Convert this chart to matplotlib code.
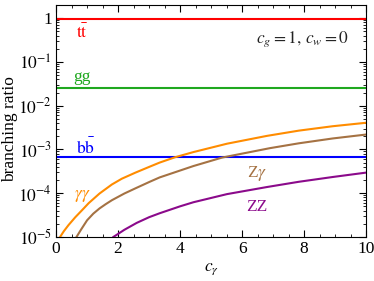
import numpy as np
import matplotlib
matplotlib.use("Agg")
import matplotlib.pyplot as plt
from matplotlib.ticker import LogLocator, MultipleLocator, FuncFormatter, NullFormatter

plt.rcParams['font.family'] = ['Liberation Serif', 'DejaVu Serif']
plt.rcParams['mathtext.fontset'] = 'stix'

# constant channels
br_tt = 0.96
br_gg = 0.026
br_bb = 6.6e-4

# c_gamma dependent channels
c_aa = [0.13, 0.25, 0.40, 0.62, 0.85, 1.05, 1.4, 1.8, 2.12, 2.56, 3.0, 3.34, 3.83,
        4.43, 5.51, 6.8, 7.83, 8.92, 10]
br_aa = [1.0e-5, 1.35e-5, 1.86e-5, 2.82e-5, 4.17e-5, 5.9e-5, 9.8e-5, 1.58e-4, 2.14e-4,
         2.95e-4, 3.98e-4, 5.0e-4, 6.6e-4, 8.7e-4, 1.35e-3, 2.04e-3, 2.69e-3, 3.39e-3, 4.07e-3]

c_za = [0.66, 0.8, 1.0, 1.2, 1.4, 1.6, 1.8, 2.2, 2.56, 3.02, 3.34, 4.43, 5.35, 6.9, 7.83, 8.92, 10]
br_za = [1.0e-5, 1.45e-5, 2.4e-5, 3.4e-5, 4.47e-5, 5.6e-5, 6.9e-5, 9.8e-5, 1.29e-4, 1.82e-4,
         2.29e-4, 4.17e-4, 6.5e-4, 1.07e-3, 1.38e-3, 1.78e-3, 2.19e-3]

c_zz = [1.85, 2.0, 2.2, 2.6, 3.0, 3.34, 4.0, 4.43, 5.51, 6.8, 7.83, 8.92, 10]
br_zz = [1.0e-5, 1.17e-5, 1.45e-5, 2.09e-5, 2.82e-5, 3.47e-5, 5.0e-5, 6.2e-5, 9.5e-5,
         1.38e-4, 1.82e-4, 2.34e-4, 2.95e-4]

RED = '#ff0000'
GREEN = '#1fa81f'
BLUE = '#0000ff'
ORANGE = '#ff8c00'
BROWN = '#a57243'
PURPLE = '#8b0a8b'

fig = plt.figure(figsize=(3.74, 2.81), dpi=100)
ax = fig.add_axes([0.150, 0.157, 0.829, 0.825])

lw = 1.5
ax.axhline(br_tt, color=RED, lw=lw)
ax.axhline(br_gg, color=GREEN, lw=lw)
ax.axhline(br_bb, color=BLUE, lw=lw)
ax.plot(c_aa, br_aa, color=ORANGE, lw=lw)
ax.plot(c_za, br_za, color=BROWN, lw=lw)
ax.plot(c_zz, br_zz, color=PURPLE, lw=lw)

ax.set_yscale('log')
ax.set_xlim(0, 10)
ax.set_ylim(1e-5, 2.0)

ax.xaxis.set_major_locator(MultipleLocator(2))
ax.xaxis.set_minor_locator(MultipleLocator(0.5))
ax.yaxis.set_major_locator(LogLocator(base=10, numticks=10))
ax.yaxis.set_minor_locator(LogLocator(base=10, subs=np.arange(2, 10), numticks=20))
ax.yaxis.set_minor_formatter(NullFormatter())


def ylab(v, pos):
    e = int(round(np.log10(v)))
    if e == 0:
        return '1'
    return r'$10^{%d}$' % e


fs = 12.5
ax.yaxis.set_major_formatter(FuncFormatter(ylab))
ax.tick_params(which='both', direction='in', top=True, right=True, labelsize=fs)
ax.tick_params(which='major', length=5, width=0.8, pad=3)
ax.tick_params(which='minor', length=2.5, width=0.6)

ax.set_xlabel(r'$c_\gamma$', fontsize=fs, labelpad=3)
fig.text(10 / 374, 1 - 129 / 281, 'branching ratio', fontsize=fs, rotation=90,
         ha='center', va='center')

ax.text(0.85, 0.45, r'$\mathrm{t}\bar{\mathrm{t}}$', color=RED, fontsize=fs, ha='center', va='center')
ax.text(0.85, 0.045, 'gg', color=GREEN, fontsize=fs, ha='center', va='center')
ax.text(0.95, 1.1e-3, r'$\mathrm{b}\bar{\mathrm{b}}$', color=BLUE, fontsize=fs, ha='center', va='center')
ax.text(0.85, 8.5e-5, r'$\gamma\gamma$', color=ORANGE, fontsize=fs, ha='center', va='center')
ax.text(6.48, 2.8e-4, r'Z$\gamma$', color=BROWN, fontsize=fs, ha='center', va='center')
ax.text(6.48, 4.9e-5, 'ZZ', color=PURPLE, fontsize=fs, ha='center', va='center')
ax.text(9.45, 0.34, r'$c_g = 1,\, c_w = 0$', color='#222222', fontsize=fs, ha='right', va='center')

fig.savefig('out.png', dpi=100)
